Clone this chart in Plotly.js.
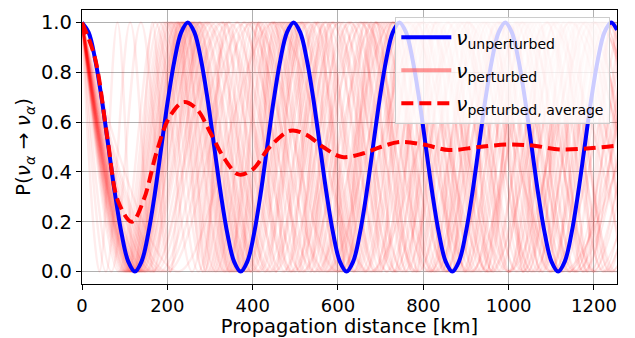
<!DOCTYPE html>
<html>
<head>
<meta charset="utf-8">
<script src="https://cdn.plot.ly/plotly-3.0.1.min.js"></script>
<style>html,body{margin:0;padding:0;background:#fff;}#chart{width:635px;height:338px;}</style>
</head>
<body>
<div id="chart"></div>
<script>
// ---- data ----
const unpertX = [
  0,15.5,31,46.5,62,77.5,93,108.5,124,139.5,155,170.5,186,201.5,217,232.5,
  248,263.5,279,294.5,310,325.5,341,356.5,372,387.5,403,418.5,434,449.5,465,480.5,
  496,511.5,527,542.5,558,573.5,589,604.5,620,635.5,651,666.5,682,697.5,713,728.5,
  744,759.5,775,790.5,806,821.5,837,852.5,868,883.5,899,914.5,930,945.5,961,976.5,
  992,1007.5,1023,1038.5,1054,1069.5,1085,1100.5,1116,1131.5,1147,1162.5,1178,1193.5,1209,1224.5,
  1240,1254];
const unpertY = [
  1,0.96,0.85,0.69,0.5,0.31,0.15,0.04,0,0.04,0.15,0.31,0.5,0.69,0.85,0.96,
  1,0.96,0.85,0.69,0.5,0.31,0.15,0.04,0,0.04,0.15,0.31,0.5,0.69,0.85,0.96,
  1,0.96,0.85,0.69,0.5,0.31,0.15,0.04,0,0.04,0.15,0.31,0.5,0.69,0.85,0.96,
  1,0.96,0.85,0.69,0.5,0.31,0.15,0.04,0,0.04,0.15,0.31,0.5,0.69,0.85,0.96,
  1,0.96,0.85,0.69,0.5,0.31,0.15,0.04,0,0.04,0.15,0.31,0.5,0.69,0.85,0.96,
  1,0.97];

const avgX = [0,30,60,85,117,145,175,205,238,270,300,335,367,400,440,488,525,565,610,660,700,745,800,860,930,1000,1060,1120,1190,1254];
const avgY = [1.0,0.86,0.53,0.28,0.2,0.29,0.48,0.62,0.68,0.65,0.56,0.45,0.39,0.41,0.5,0.565,0.55,0.5,0.46,0.475,0.5,0.52,0.51,0.488,0.5,0.51,0.505,0.49,0.495,0.505];

// perturbed curves: x positions of successive extrema (max, min, max, ...)
const perturbedPeak = 1.0;
const perturbedTrough = 0.0;
const perturbedExtrema = [
  [0,225,450,675,900,1125,1350],
  [0,200,400,600,800,1000,1200,1400],
  [0,191,382,572,763,954,1145,1335],
  [0,182,364,546,728,910,1092,1274],
  [0,172,344,516,688,860,1032,1204,1376],
  [0,165,331,496,661,827,992,1157,1323],
  [0,163,326,489,652,815,978,1141,1304],
  [0,157,314,471,628,785,942,1099,1256],
  [0,151,302,453,604,755,906,1057,1208,1359],
  [0,148,295,443,590,738,886,1033,1181,1329],
  [0,146,292,438,584,730,876,1022,1168,1314],
  [0,143,286,429,572,715,858,1001,1144,1287],
  [0,139,278,417,556,695,834,973,1112,1251,1390],
  [0,138,276,413,551,689,827,964,1102,1240,1378],
  [0,136,272,408,544,680,816,952,1088,1224,1360],
  [0,133,266,399,532,665,798,931,1064,1197,1330],
  [0,132,264,396,528,660,792,924,1056,1188,1320],
  [0,131,261,392,522,653,783,914,1044,1175,1305],
  [0,129,258,387,516,645,774,903,1032,1161,1290],
  [0,128,256,384,512,640,768,896,1024,1152,1280],
  [0,127,254,381,508,635,762,889,1016,1143,1270],
  [0,125,250,375,500,625,750,875,1000,1125,1250,1375],
  [0,123,246,369,492,615,738,861,984,1107,1230,1353],
  [0,122,244,366,488,610,732,854,976,1098,1220,1342],
  [0,122,243,365,486,608,729,851,972,1094,1215,1337],
  [0,120,240,360,480,600,720,840,960,1080,1200,1320],
  [0,119,238,357,476,595,714,833,952,1071,1190,1309],
  [0,118,236,354,472,590,708,826,944,1062,1180,1298],
  [0,117,234,351,468,585,702,819,936,1053,1170,1287],
  [0,116,232,348,464,580,696,812,928,1044,1160,1276],
  [0,115,230,345,460,575,690,805,920,1035,1150,1265],
  [0,113,226,339,452,565,678,791,904,1017,1130,1243,1356],
  [0,112,223,335,447,559,670,782,894,1005,1117,1229,1341],
  [0,111,222,333,444,555,666,777,888,999,1110,1221,1332],
  [0,109,218,327,436,545,654,763,872,981,1090,1199,1308],
  [0,107,214,321,428,535,642,749,856,963,1070,1177,1284],
  [0,105,210,315,420,525,631,736,841,946,1051,1156,1261],
  [0,104,208,312,416,520,624,728,832,936,1040,1144,1248,1352],
  [0,102,204,306,408,510,612,714,816,918,1020,1122,1224,1326],
  [0,100,200,300,400,500,600,700,800,900,1000,1100,1200,1300],
  [0,98,196,294,392,490,588,686,784,882,980,1078,1176,1274],
  [0,95,190,285,380,475,570,665,760,855,950,1045,1140,1235,1330],
  [0,91,182,273,364,455,546,637,728,819,910,1001,1092,1183,1274],
  [0,86,172,258,344,430,516,602,688,774,860,946,1032,1118,1204,1290],
  [0,69,138,207,276,345,414,483,552,621,690,759,828,897,966,1035,1104,1173,1242,1311],
  [0,56,113,169,226,282,338,395,451,508,564,620,677,733,790,846,902,959,1015,1072,1128,1184,1241,1297],
  [0,41,83,124,165,207,248,289,331,372,413,455,496,537,579,620,661,703,744,785,827,868,909,951,992,1033,1075,1116,1157,1199,1240,1281]
];

const xTicks = [0,200,400,600,800,1000,1200];
const yTicks = [0.0,0.2,0.4,0.6,0.8,1.0];

const labelUnpert = '<i>ν</i><sub>unperturbed</sub>';
const labelPert = '<i>ν</i><sub>perturbed</sub>';
const labelAvg = '<i>ν</i><sub>perturbed, average</sub>';
const xTitle = 'Propagation distance [km]';
const yTitle = 'P(<i>ν</i><sub><i>α</i></sub> → <i>ν</i><sub><i>α</i></sub>)';

// ---- traces ----
const traces = [];
perturbedExtrema.forEach(function(xs){
  traces.push({
    x: xs,
    y: xs.map(function(_, i){ return i % 2 === 0 ? perturbedPeak : perturbedTrough; }),
    type: 'scatter', mode: 'lines',
    line: {color: 'rgba(255,0,0,0.075)', width: 2.5, shape: 'spline', smoothing: 1},
    showlegend: false, hoverinfo: 'skip'
  });
});
// legend handle for perturbed curves
traces.push({
  x: [null], y: [null], type: 'scatter', mode: 'lines', name: labelPert,
  line: {color: 'rgba(255,80,80,0.6)', width: 4}, legendrank: 2, legendgroup: 'b'
});
traces.push({
  x: unpertX, y: unpertY, type: 'scatter', mode: 'lines', name: labelUnpert,
  line: {color: '#0000ff', width: 4, shape: 'spline', smoothing: 1}, legendrank: 1, legendgroup: 'a'
});
traces.push({
  x: avgX, y: avgY, type: 'scatter', mode: 'lines', name: labelAvg,
  line: {color: '#ff0000', width: 4, dash: '12px,6px', shape: 'spline', smoothing: 1}, legendrank: 3, legendgroup: 'c'
});

const font = 'DejaVu Sans, sans-serif';
const layout = {
  width: 635, height: 338,
  margin: {l: 82, r: 18, t: 10, b: 54, pad: 0},
  paper_bgcolor: '#ffffff', plot_bgcolor: '#ffffff',
  font: {family: font, size: 20, color: '#000'},
  xaxis: {
    range: [0, 1254], tickvals: xTicks, ticktext: xTicks.map(String),
    showgrid: true, gridcolor: '#b0b0b0', gridwidth: 1,
    showline: true, linecolor: '#000', linewidth: 1.2, mirror: true,
    ticks: 'outside', ticklen: 5, tickcolor: '#000', zeroline: false,
    tickfont: {family: font, size: 18},
    title: {text: xTitle, font: {family: font, size: 19.5}, standoff: 9}
  },
  yaxis: {
    range: [-0.05, 1.05], tickvals: yTicks, ticktext: yTicks.map(function(v){return v.toFixed(1);}),
    showgrid: true, gridcolor: '#b0b0b0', gridwidth: 1,
    showline: true, linecolor: '#000', linewidth: 1.2, mirror: true,
    ticks: 'outside', ticklen: 5, tickcolor: '#000', zeroline: false,
    tickfont: {family: font, size: 19.5},
    title: {text: yTitle, font: {family: font, size: 20}, standoff: 4}
  },
  showlegend: true,
  legend: {
    x: 0.9875, y: 0.975, xanchor: 'right', yanchor: 'top',
    bgcolor: 'rgba(255,255,255,0.8)', bordercolor: '#cccccc', borderwidth: 1,
    font: {family: font, size: 20}, traceorder: 'grouped', tracegroupgap: 4,
    itemwidth: 50
  }
};

Plotly.newPlot('chart', traces, layout, {staticPlot: true, displayModeBar: false});
</script>
</body>
</html>
